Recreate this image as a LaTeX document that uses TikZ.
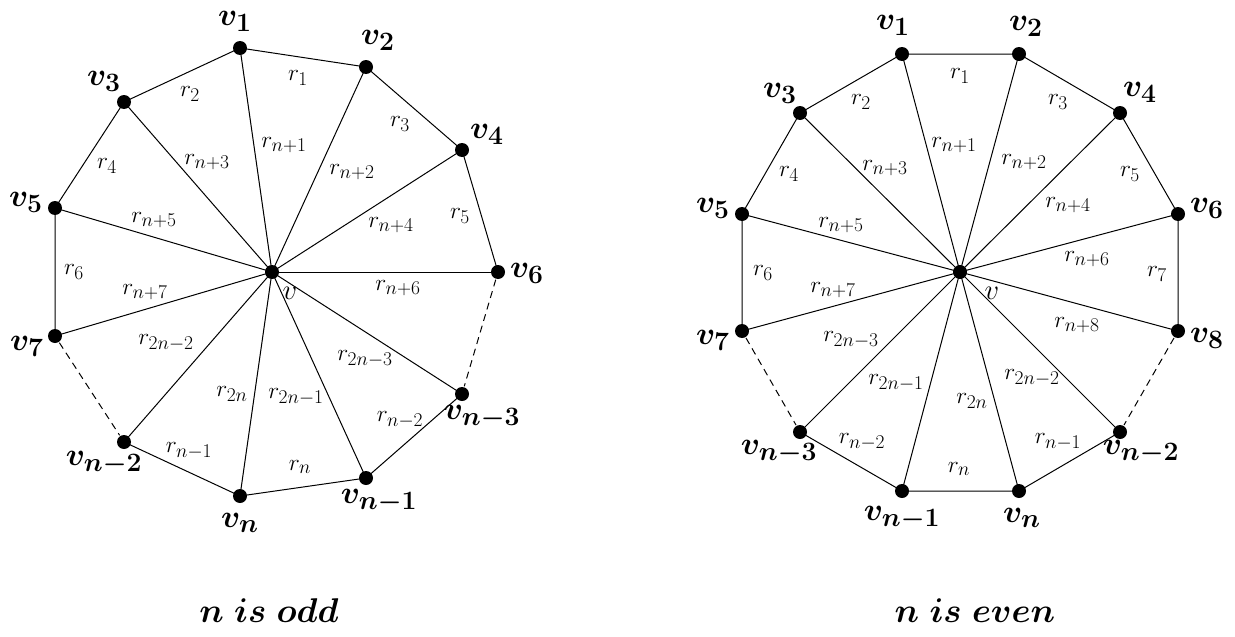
\documentclass[tikz,border=0pt]{standalone}
\usepackage{amsmath,bm,graphicx}
\newcommand{\myV}[1]{\scalebox{1.28}{\Huge$\bm{#1}$}}
\newcommand{\myR}[1]{\scalebox{0.94}{\Huge$#1$}}
\newcommand{\myC}[1]{\scalebox{1.15}{\Huge$#1$}}
\newcommand{\myT}[1]{\scalebox{1.38}{\Huge$\bm{#1}$}}
\begin{document}
\begin{tikzpicture}[x=1pt,y=-1pt,
  dot/.style={circle,fill=black,inner sep=0pt,minimum size=14pt},
  vlab/.style={inner sep=0pt},
  rlab/.style={inner sep=0pt},
  eline/.style={line width=1pt},
  dline/.style={line width=1pt,dash pattern=on 7pt off 5pt,shorten <=8pt,shorten >=8pt}]
\useasboundingbox (0,0) rectangle (1235,637);
% ---------------- left: n odd ----------------
\node[dot] (c) at (272,272) {};
\node[dot] (a1) at (240,48) {};
\node[dot] (a2) at (366,67) {};
\node[dot] (a3) at (124,102) {};
\node[dot] (a4) at (462,150) {};
\node[dot] (a5) at (55,208) {};
\node[dot] (a6) at (498,272) {};
\node[dot] (a7) at (55,336) {};
\node[dot] (an3) at (462,394) {};
\node[dot] (an2) at (124,442) {};
\node[dot] (an1) at (366,478) {};
\node[dot] (an) at (240,496) {};
\foreach \p in {a1,a2,a3,a4,a5,a6,a7,an3,an2,an1,an}
  \draw[eline] (c.center) -- (\p.center);
\draw[eline] (a3.center) -- (a1.center) -- (a2.center) -- (a4.center) -- (a6.center);
\draw[eline] (a3.center) -- (a5.center) -- (a7.center);
\draw[eline] (an3.center) -- (an1.center) -- (an.center) -- (an2.center);
\draw[dline] (a6.center) -- (an3.center);
\draw[dline] (a7.center) -- (an2.center);
\node[vlab] (la1) at (235,21) {\myV{v_1}};
\node[vlab] (la2) at (378,40) {\myV{v_2}};
\node[vlab] (la3) at (104,81) {\myV{v_3}};
\node[vlab] (la4) at (487,134) {\myV{v_4}};
\node[vlab] (la5) at (26,202) {\myV{v_5}};
\node[vlab] (la6) at (527,273) {\myV{v_6}};
\node[vlab] (la7) at (27,346) {\myV{v_7}};
\node[vlab] (lan3) at (482,417) {\myV{v_{n-3}}};
\node[vlab] (lan2) at (104,463) {\myV{v_{n-2}}};
\node[vlab] (lan1) at (379,501) {\myV{v_{n-1}}};
\node[vlab] (lan) at (240,523) {\myV{v_n}};
\node[vlab] (lc) at (290,293) {\myC{v}};
\node[rlab] at (298,78) {\myR{r_1}};
\node[rlab] at (190,94) {\myR{r_2}};
\node[rlab] at (400,124) {\myR{r_3}};
\node[rlab] at (107,166) {\myR{r_4}};
\node[rlab] at (460,216) {\myR{r_5}};
\node[rlab] at (74,272) {\myR{r_6}};
\node[rlab] at (284,145) {\myR{r_{n+1}}};
\node[rlab] at (352,172) {\myR{r_{n+2}}};
\node[rlab] at (207,162) {\myR{r_{n+3}}};
\node[rlab] at (391,225) {\myR{r_{n+4}}};
\node[rlab] at (154,220) {\myR{r_{n+5}}};
\node[rlab] at (398,288) {\myR{r_{n+6}}};
\node[rlab] at (145,292) {\myR{r_{n+7}}};
\node[rlab] at (166,343) {\myR{r_{2n-2}}};
\node[rlab] at (365,359) {\myR{r_{2n-3}}};
\node[rlab] at (232,394) {\myR{r_{2n}}};
\node[rlab] at (296,397) {\myR{r_{2n-1}}};
\node[rlab] at (400,420) {\myR{r_{n-2}}};
\node[rlab] at (189,451) {\myR{r_{n-1}}};
\node[rlab] at (300,467) {\myR{r_n}};
\node[vlab] (capl) at (269,611) {\myT{n\ is\ odd}};
% ---------------- right: n even ----------------
\node[dot] (d) at (960,272) {};
\node[dot] (b1) at (902,54) {};
\node[dot] (b2) at (1019,54) {};
\node[dot] (b3) at (800,113) {};
\node[dot] (b4) at (1120,113) {};
\node[dot] (b5) at (742,214) {};
\node[dot] (b6) at (1178,214) {};
\node[dot] (b7) at (742,331) {};
\node[dot] (b8) at (1178,331) {};
\node[dot] (bn3) at (800,432) {};
\node[dot] (bn2) at (1120,432) {};
\node[dot] (bn1) at (902,491) {};
\node[dot] (bn) at (1019,491) {};
\foreach \p in {b1,b2,b3,b4,b5,b6,b7,b8,bn3,bn2,bn1,bn}
  \draw[eline] (d.center) -- (\p.center);
\draw[eline] (b7.center) -- (b5.center) -- (b3.center) -- (b1.center) -- (b2.center) -- (b4.center) -- (b6.center) -- (b8.center);
\draw[eline] (bn3.center) -- (bn1.center) -- (bn.center) -- (bn2.center);
\draw[dline] (b7.center) -- (bn3.center);
\draw[dline] (b8.center) -- (bn2.center);
\node[vlab] (lb1) at (893,25) {\myV{v_1}};
\node[vlab] (lb2) at (1026,26) {\myV{v_2}};
\node[vlab] (lb3) at (780,93) {\myV{v_3}};
\node[vlab] (lb4) at (1140,92) {\myV{v_4}};
\node[vlab] (lb5) at (713,208) {\myV{v_5}};
\node[vlab] (lb6) at (1207,208) {\myV{v_6}};
\node[vlab] (lb7) at (713,340) {\myV{v_7}};
\node[vlab] (lb8) at (1207,338) {\myV{v_8}};
\node[vlab] (lbn3) at (779,452) {\myV{v_{n-3}}};
\node[vlab] (lbn2) at (1141,452) {\myV{v_{n-2}}};
\node[vlab] (lbn1) at (902,518) {\myV{v_{n-1}}};
\node[vlab] (lbn) at (1022,518) {\myV{v_n}};
\node[vlab] (ld) at (992,293) {\myC{v}};
\node[rlab] at (960,76) {\myR{r_1}};
\node[rlab] at (861,102) {\myR{r_2}};
\node[rlab] at (1058,102) {\myR{r_3}};
\node[rlab] at (789,174) {\myR{r_4}};
\node[rlab] at (1130,174) {\myR{r_5}};
\node[rlab] at (763,273) {\myR{r_6}};
\node[rlab] at (1157,274) {\myR{r_7}};
\node[rlab] at (954,145) {\myR{r_{n+1}}};
\node[rlab] at (1024,162) {\myR{r_{n+2}}};
\node[rlab] at (885,168) {\myR{r_{n+3}}};
\node[rlab] at (1068,205) {\myR{r_{n+4}}};
\node[rlab] at (841,225) {\myR{r_{n+5}}};
\node[rlab] at (1087,259) {\myR{r_{n+6}}};
\node[rlab] at (833,290) {\myR{r_{n+7}}};
\node[rlab] at (1077,325) {\myR{r_{n+8}}};
\node[rlab] at (851,340) {\myR{r_{2n-3}}};
\node[rlab] at (896,383) {\myR{r_{2n-1}}};
\node[rlab] at (1032,378) {\myR{r_{2n-2}}};
\node[rlab] at (972,401) {\myR{r_{2n}}};
\node[rlab] at (862,442) {\myR{r_{n-2}}};
\node[rlab] at (1058,442) {\myR{r_{n-1}}};
\node[rlab] at (959,469) {\myR{r_n}};
\node[vlab] (capr) at (975,611) {\myT{n\ is\ even}};
\end{tikzpicture}
\end{document}
